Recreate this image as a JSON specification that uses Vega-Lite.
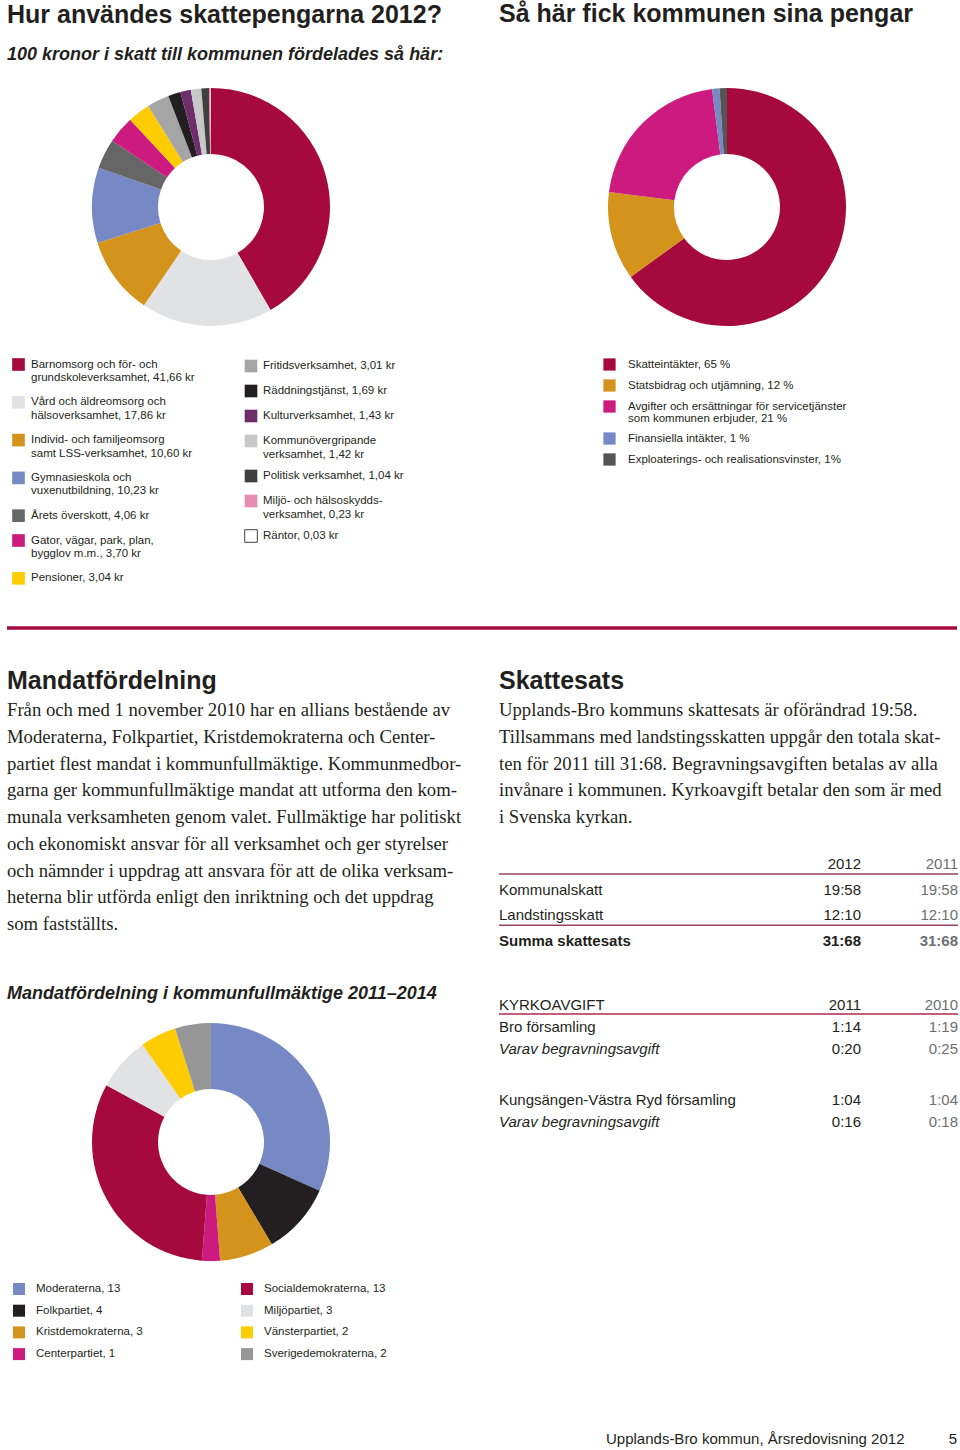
{
  "$schema": "https://vega.github.io/schema/vega-lite/v6.json",
  "background": "white",
  "padding": {"left": 5, "top": 2, "right": 0, "bottom": 0},
  "config": {
    "view": {"stroke": null},
    "font": "Liberation Sans",
    "concat": {"spacing": 0},
    "title": {"anchor": "start", "frame": "group", "font": "Liberation Sans", "fontWeight": "bold", "color": "#231f20", "fontSize": 25}
  },
  "bounds": "flush",
  "spacing": 240,
  "resolve": {"scale": {"color": "independent", "theta": "independent"}, "legend": {"color": "independent"}},
  "vconcat": [
    {
      "hconcat": [
        {
          "width": 408,
          "height": 240,
          "title": {
            "text": "Hur användes skattepengarna 2012?",
            "subtitle": "100 kronor i skatt till kommunen fördelades så här:",
            "frame": "group",
            "offset": 23,
            "subtitleFont": "Liberation Sans",
            "subtitleFontSize": 18,
            "subtitleFontStyle": "italic",
            "subtitleFontWeight": "bold",
            "subtitleColor": "#231f20",
            "subtitlePadding": 18.5
          },
          "data": {"values": [
            {"nr": 1, "kategori": "Barnomsorg och för- och\ngrundskoleverksamhet, 41,66 kr", "kr": 41.66},
            {"nr": 2, "kategori": "Vård och äldreomsorg och\nhälsoverksamhet, 17,86 kr", "kr": 17.86},
            {"nr": 3, "kategori": "Individ- och familjeomsorg\nsamt LSS-verksamhet, 10,60 kr", "kr": 10.60},
            {"nr": 4, "kategori": "Gymnasieskola och\nvuxenutbildning, 10,23 kr", "kr": 10.23},
            {"nr": 5, "kategori": "Årets överskott,  4,06 kr", "kr": 4.06},
            {"nr": 6, "kategori": "Gator, vägar, park, plan,\nbygglov m.m.,  3,70 kr", "kr": 3.70},
            {"nr": 7, "kategori": "Pensioner,  3,04 kr", "kr": 3.04},
            {"nr": 8, "kategori": "Fritidsverksamhet,  3,01 kr", "kr": 3.01},
            {"nr": 9, "kategori": "Räddningstjänst,  1,69 kr", "kr": 1.69},
            {"nr": 10, "kategori": "Kulturverksamhet,  1,43 kr", "kr": 1.43},
            {"nr": 11, "kategori": "Kommunövergripande\nverksamhet,  1,42 kr", "kr": 1.42},
            {"nr": 12, "kategori": "Politisk verksamhet,  1,04 kr", "kr": 1.04},
            {"nr": 13, "kategori": "Miljö- och hälsoskydds-\nverksamhet,  0,23 kr", "kr": 0.23},
            {"nr": 14, "kategori": "Räntor,  0,03 kr", "kr": 0.03}
          ]},
          "transform": [
            {"stack": "kr", "groupby": [], "sort": [{"field": "nr", "order": "ascending"}], "as": ["fran", "till"]}
          ],
          "layer": [
            {
              "transform": [{"filter": "datum.nr <= 7"}],
              "mark": {"type": "arc", "innerRadius": 53, "outerRadius": 119},
              "encoding": {
                "theta": {"field": "fran", "type": "quantitative", "scale": {"domain": [0, 100]}},
                "theta2": {"field": "till"},
                "color": {
                  "field": "kategori",
                  "type": "nominal",
                  "scale": {
                    "domain": [
                      "Barnomsorg och för- och\ngrundskoleverksamhet, 41,66 kr",
                      "Vård och äldreomsorg och\nhälsoverksamhet, 17,86 kr",
                      "Individ- och familjeomsorg\nsamt LSS-verksamhet, 10,60 kr",
                      "Gymnasieskola och\nvuxenutbildning, 10,23 kr",
                      "Årets överskott,  4,06 kr",
                      "Gator, vägar, park, plan,\nbygglov m.m.,  3,70 kr",
                      "Pensioner,  3,04 kr"
                    ],
                    "range": ["#a6093d", "#e1e2e3", "#d4931b", "#7789c5", "#666666", "#cc1a7f", "#fecc00"]
                  },
                  "legend": {
                    "title": null,
                    "orient": "none",
                    "legendX": 5,
                    "legendY": 271,
                    "direction": "vertical",
                    "padding": 0,
                    "symbolType": "square",
                    "symbolSize": 160,
                    "symbolStrokeWidth": 0,
                    "labelFont": "Liberation Sans",
                    "labelFontSize": 11.5,
                    "labelColor": "#231f20",
                    "labelOffset": 6,
                    "rowPadding": 11.8,
                    "labelLimit": 400,
                    "labelExpr": "split(datum.label, '\\n')"
                  }
                }
              }
            },
            {
              "transform": [{"filter": "datum.nr > 7"}],
              "mark": {"type": "arc", "innerRadius": 53, "outerRadius": 119},
              "encoding": {
                "theta": {"field": "fran", "type": "quantitative", "scale": {"domain": [0, 100]}},
                "theta2": {"field": "till"},
                "color": {
                  "field": "kategori",
                  "type": "nominal",
                  "scale": {
                    "domain": [
                      "Fritidsverksamhet,  3,01 kr",
                      "Räddningstjänst,  1,69 kr",
                      "Kulturverksamhet,  1,43 kr",
                      "Kommunövergripande\nverksamhet,  1,42 kr",
                      "Politisk verksamhet,  1,04 kr",
                      "Miljö- och hälsoskydds-\nverksamhet,  0,23 kr",
                      "Räntor,  0,03 kr"
                    ],
                    "range": ["#a5a5a5", "#231f20", "#6e2d6b", "#c8c8c8", "#404040", "#e58db4", "#ffffff"]
                  },
                  "legend": {
                    "title": null,
                    "orient": "none",
                    "legendX": 237,
                    "legendY": 272,
                    "direction": "vertical",
                    "padding": 0,
                    "symbolType": "square",
                    "symbolSize": 160,
                    "symbolStrokeWidth": 0,
                    "labelFont": "Liberation Sans",
                    "labelFontSize": 11.5,
                    "labelColor": "#231f20",
                    "labelOffset": 5,
                    "rowPadding": 7,
                    "labelLimit": 400,
                    "labelExpr": "split(datum.label, '\\n')",
                    "encode": {
                      "symbols": {
                        "update": {
                          "stroke": [{"test": "datum.value === 'Räntor,  0,03 kr'", "value": "#444444"}, {"value": "transparent"}],
                          "strokeWidth": {"value": 1}
                        }
                      }
                    }
                  }
                }
              }
            }
          ],
          "resolve": {"scale": {"color": "independent"}, "legend": {"color": "independent"}}
        },
        {
          "width": 456,
          "height": 240,
          "title": {"text": "Så här fick kommunen sina pengar", "frame": "group", "offset": 60},
          "data": {"values": [
            {"nr": 1, "kalla": "Skatteintäkter, 65 %", "andel": 65},
            {"nr": 2, "kalla": "Statsbidrag och utjämning, 12 %", "andel": 12},
            {"nr": 3, "kalla": "Avgifter och ersättningar för servicetjänster\nsom kommunen erbjuder, 21 %", "andel": 21},
            {"nr": 4, "kalla": "Finansiella intäkter, 1 %", "andel": 1},
            {"nr": 5, "kalla": "Exploaterings- och realisationsvinster, 1%", "andel": 1}
          ]},
          "mark": {"type": "arc", "innerRadius": 53, "outerRadius": 119},
          "encoding": {
            "theta": {"field": "andel", "type": "quantitative", "stack": true},
            "order": {"field": "nr", "type": "quantitative"},
            "color": {
              "field": "kalla",
              "type": "nominal",
              "scale": {
                "domain": [
                  "Skatteintäkter, 65 %",
                  "Statsbidrag och utjämning, 12 %",
                  "Avgifter och ersättningar för servicetjänster\nsom kommunen erbjuder, 21 %",
                  "Finansiella intäkter, 1 %",
                  "Exploaterings- och realisationsvinster, 1%"
                ],
                "range": ["#a6093d", "#d4931b", "#cc1a7f", "#7789c5", "#555555"]
              },
              "legend": {
                "title": null,
                "orient": "none",
                "legendX": 104,
                "legendY": 271,
                "direction": "vertical",
                "padding": 0,
                "symbolType": "square",
                "symbolSize": 150,
                "symbolStrokeWidth": 0,
                "labelFont": "Liberation Sans",
                "labelFontSize": 11.5,
                "labelColor": "#231f20",
                "labelOffset": 12,
                "rowPadding": 8,
                "labelLimit": 400,
                "labelExpr": "split(datum.label, '\\n')",
                "encode": {"labels": {"update": {"lineHeight": {"value": 12}}}}
              }
            }
          }
        }
      ],
      "spacing": 84,
      "bounds": "flush",
      "resolve": {"scale": {"color": "independent", "theta": "independent"}, "legend": {"color": "independent"}}
    },
    {
      "vconcat": [
        {
          "width": 950,
          "height": 301,
          "data": {"values": [{"linje": 0}]},
          "mark": {"type": "rule", "color": "#a6093d", "strokeWidth": 3.5},
          "encoding": {
            "y": {"field": "linje", "type": "quantitative", "scale": {"domain": [0, 1]}, "axis": null}
          }
        },
        {
          "vconcat": [
            {
              "hconcat": [
                {
                  "width": 408,
                  "height": 214,
                  "title": {"text": "Mandatfördelning", "frame": "group", "offset": 6.75},
                  "data": {"values": [
                    {"rad": 1, "text": "Från och med 1 november 2010 har en allians bestående av"},
                    {"rad": 2, "text": "Moderaterna, Folkpartiet, Kristdemokraterna och Center-"},
                    {"rad": 3, "text": "partiet flest mandat i kommunfullmäktige. Kommunmedbor-"},
                    {"rad": 4, "text": "garna ger kommunfullmäktige mandat att utforma den kom-"},
                    {"rad": 5, "text": "munala verksamheten genom valet. Fullmäktige har politiskt"},
                    {"rad": 6, "text": "och ekonomiskt ansvar för all verksamhet och ger styrelser"},
                    {"rad": 7, "text": "och nämnder i uppdrag att ansvara för att de olika verksam-"},
                    {"rad": 8, "text": "heterna blir utförda enligt den inriktning och det uppdrag"},
                    {"rad": 9, "text": "som fastställts."}
                  ]},
                  "mark": {"type": "text", "align": "left", "baseline": "alphabetic", "font": "Liberation Serif", "fontSize": 18.7, "color": "#231f20"},
                  "encoding": {
                    "x": {"datum": 0, "type": "quantitative", "scale": {"domain": [0, 1]}, "axis": null},
                    "y": {"field": "rad", "type": "ordinal", "scale": {"type": "point", "padding": 0}, "axis": null},
                    "text": {"field": "text"}
                  }
                },
                {
                  "vconcat": [
                    {
                      "width": 459,
                      "height": 107,
                      "title": {"text": "Skattesats", "frame": "group", "offset": 6.75},
                      "data": {"values": [
                        {"rad": 1, "text": "Upplands-Bro kommuns skattesats är oförändrad 19:58."},
                        {"rad": 2, "text": "Tillsammans med landstingsskatten uppgår den totala skat-"},
                        {"rad": 3, "text": "ten för 2011 till 31:68. Begravningsavgiften betalas av alla"},
                        {"rad": 4, "text": "invånare i kommunen. Kyrkoavgift betalar den som är med"},
                        {"rad": 5, "text": "i Svenska kyrkan."}
                      ]},
                      "mark": {"type": "text", "align": "left", "baseline": "alphabetic", "font": "Liberation Serif", "fontSize": 18.7, "color": "#231f20"},
                      "encoding": {
                        "x": {"datum": 0, "type": "quantitative", "scale": {"domain": [0, 1]}, "axis": null},
                        "y": {"field": "rad", "type": "ordinal", "scale": {"type": "point", "padding": 0}, "axis": null},
                        "text": {"field": "text"}
                      }
                    },
                    {
                      "width": 459,
                      "height": 77,
                      "data": {"values": [
                        {"rad": 1, "etikett": "", "a": "2012", "b": "2011"},
                        {"rad": 2, "etikett": "Kommunalskatt", "a": "19:58", "b": "19:58"},
                        {"rad": 3, "etikett": "Landstingsskatt", "a": "12:10", "b": "12:10"},
                        {"rad": 4, "etikett": "Summa skattesats", "a": "31:68", "b": "31:68"}
                      ]},
                      "encoding": {
                        "y": {"field": "rad", "type": "ordinal", "scale": {"type": "point", "padding": 0}, "axis": null}
                      },
                      "layer": [
                        {
                          "transform": [{"filter": "datum.rad == 1 || datum.rad == 3"}],
                          "mark": {"type": "rule", "color": "#a0405f", "strokeWidth": 1.5, "yOffset": 5}
                        },
                        {
                          "mark": {"type": "text", "align": "left", "baseline": "alphabetic", "fontSize": 15, "color": "#231f20", "fontWeight": {"expr": "datum.rad == 4 ? 'bold' : 'normal'"}},
                          "encoding": {
                            "x": {"datum": 0, "type": "quantitative", "scale": {"domain": [0, 459]}, "axis": null},
                            "text": {"field": "etikett"}
                          }
                        },
                        {
                          "mark": {"type": "text", "align": "right", "baseline": "alphabetic", "fontSize": 15, "color": "#231f20", "fontWeight": {"expr": "datum.rad == 4 ? 'bold' : 'normal'"}},
                          "encoding": {
                            "x": {"datum": 362, "type": "quantitative", "scale": {"domain": [0, 459]}, "axis": null},
                            "text": {"field": "a"}
                          }
                        },
                        {
                          "mark": {"type": "text", "align": "right", "baseline": "alphabetic", "fontSize": 15, "color": "#6d6e71", "fontWeight": {"expr": "datum.rad == 4 ? 'bold' : 'normal'"}},
                          "encoding": {
                            "x": {"datum": 459, "type": "quantitative", "scale": {"domain": [0, 459]}, "axis": null},
                            "text": {"field": "b"}
                          }
                        }
                      ]
                    }
                  ],
                  "spacing": 46,
                  "bounds": "flush"
                }
              ],
              "spacing": 84,
              "bounds": "flush"
            },
            {
              "vconcat": [
                {
                  "hconcat": [
                    {
                      "width": 408,
                      "height": 264,
                      "title": {"text": "Mandatfördelning i kommunfullmäktige 2011–2014", "frame": "group", "offset": 7, "fontSize": 18, "fontStyle": "italic"},
                      "data": {"values": [
                        {"nr": 1, "parti": "Moderaterna, 13", "mandat": 13},
                        {"nr": 2, "parti": "Folkpartiet, 4", "mandat": 4},
                        {"nr": 3, "parti": "Kristdemokraterna, 3", "mandat": 3},
                        {"nr": 4, "parti": "Centerpartiet, 1", "mandat": 1},
                        {"nr": 5, "parti": "Socialdemokraterna, 13", "mandat": 13},
                        {"nr": 6, "parti": "Miljöpartiet, 3", "mandat": 3},
                        {"nr": 7, "parti": "Vänsterpartiet, 2", "mandat": 2},
                        {"nr": 8, "parti": "Sverigedemokraterna, 2", "mandat": 2}
                      ]},
                      "mark": {"type": "arc", "innerRadius": 53, "outerRadius": 119},
                      "encoding": {
                        "theta": {"field": "mandat", "type": "quantitative", "stack": true},
                        "order": {"field": "nr", "type": "quantitative"},
                        "color": {
                          "field": "parti",
                          "type": "nominal",
                          "scale": {
                            "domain": ["Moderaterna, 13", "Folkpartiet, 4", "Kristdemokraterna, 3", "Centerpartiet, 1", "Socialdemokraterna, 13", "Miljöpartiet, 3", "Vänsterpartiet, 2", "Sverigedemokraterna, 2"],
                            "range": ["#7789c5", "#231f20", "#d4931b", "#cc1a7f", "#a6093d", "#e1e2e3", "#fecc00", "#969696"]
                          },
                          "legend": {
                            "title": null,
                            "orient": "none",
                            "legendX": 6,
                            "legendY": 273,
                            "direction": "vertical",
                            "columns": 2,
                            "columnPadding": 98,
                            "padding": 0,
                            "symbolType": "square",
                            "symbolSize": 144,
                            "symbolStrokeWidth": 0,
                            "labelFont": "Liberation Sans",
                            "labelFontSize": 11.5,
                            "labelColor": "#231f20",
                            "labelOffset": 11,
                            "rowPadding": 9.7,
                            "labelLimit": 400
                          }
                        }
                      }
                    },
                    {
                      "vconcat": [
                        {
                          "width": 459,
                          "height": 44,
                          "data": {"values": [
                            {"rad": 1, "etikett": "KYRKOAVGIFT", "a": "2011", "b": "2010"},
                            {"rad": 2, "etikett": "Bro församling", "a": "1:14", "b": "1:19"},
                            {"rad": 3, "etikett": "Varav begravningsavgift", "a": "0:20", "b": "0:25"}
                          ]},
                          "encoding": {
                            "y": {"field": "rad", "type": "ordinal", "scale": {"type": "point", "padding": 0}, "axis": null}
                          },
                          "layer": [
                            {
                              "transform": [{"filter": "datum.rad == 1"}],
                              "mark": {"type": "rule", "color": "#b02a4e", "strokeWidth": 1.3, "yOffset": 4}
                            },
                            {
                              "mark": {"type": "text", "align": "left", "baseline": "alphabetic", "fontSize": 15, "color": "#231f20", "fontStyle": {"expr": "indexof(datum.etikett, 'Varav') == 0 ? 'italic' : 'normal'"}},
                              "encoding": {
                                "x": {"datum": 0, "type": "quantitative", "scale": {"domain": [0, 459]}, "axis": null},
                                "text": {"field": "etikett"}
                              }
                            },
                            {
                              "mark": {"type": "text", "align": "right", "baseline": "alphabetic", "fontSize": 15, "color": "#231f20"},
                              "encoding": {
                                "x": {"datum": 362, "type": "quantitative", "scale": {"domain": [0, 459]}, "axis": null},
                                "text": {"field": "a"}
                              }
                            },
                            {
                              "mark": {"type": "text", "align": "right", "baseline": "alphabetic", "fontSize": 15, "color": "#6d6e71"},
                              "encoding": {
                                "x": {"datum": 459, "type": "quantitative", "scale": {"domain": [0, 459]}, "axis": null},
                                "text": {"field": "b"}
                              }
                            }
                          ]
                        },
                        {
                          "width": 459,
                          "height": 22,
                          "data": {"values": [
                            {"rad": 1, "etikett": "Kungsängen-Västra Ryd församling", "a": "1:04", "b": "1:04"},
                            {"rad": 2, "etikett": "Varav begravningsavgift", "a": "0:16", "b": "0:18"}
                          ]},
                          "encoding": {
                            "y": {"field": "rad", "type": "ordinal", "scale": {"type": "point", "padding": 0}, "axis": null}
                          },
                          "layer": [
                            {
                              "mark": {"type": "text", "align": "left", "baseline": "alphabetic", "fontSize": 15, "color": "#231f20", "fontStyle": {"expr": "indexof(datum.etikett, 'Varav') == 0 ? 'italic' : 'normal'"}},
                              "encoding": {
                                "x": {"datum": 0, "type": "quantitative", "scale": {"domain": [0, 459]}, "axis": null},
                                "text": {"field": "etikett"}
                              }
                            },
                            {
                              "mark": {"type": "text", "align": "right", "baseline": "alphabetic", "fontSize": 15, "color": "#231f20"},
                              "encoding": {
                                "x": {"datum": 362, "type": "quantitative", "scale": {"domain": [0, 459]}, "axis": null},
                                "text": {"field": "a"}
                              }
                            },
                            {
                              "mark": {"type": "text", "align": "right", "baseline": "alphabetic", "fontSize": 15, "color": "#6d6e71"},
                              "encoding": {
                                "x": {"datum": 459, "type": "quantitative", "scale": {"domain": [0, 459]}, "axis": null},
                                "text": {"field": "b"}
                              }
                            }
                          ]
                        }
                      ],
                      "spacing": 51,
                      "bounds": "flush"
                    }
                  ],
                  "spacing": 84,
                  "bounds": "flush",
                  "resolve": {"scale": {"color": "independent", "theta": "independent"}, "legend": {"color": "independent"}}
                },
                {
                  "width": 950,
                  "height": 12,
                  "layer": [
                    {
                      "data": {"values": [{"text": "Upplands-Bro kommun, Årsredovisning 2012"}]},
                      "mark": {"type": "text", "align": "left", "baseline": "alphabetic", "fontSize": 15, "color": "#231f20"},
                      "encoding": {
                        "x": {"datum": 599, "type": "quantitative", "scale": {"domain": [0, 950]}, "axis": null},
                        "text": {"field": "text"}
                      }
                    },
                    {
                      "data": {"values": [{"text": "5"}]},
                      "mark": {"type": "text", "align": "right", "baseline": "alphabetic", "fontSize": 15, "color": "#231f20"},
                      "encoding": {
                        "x": {"datum": 950, "type": "quantitative", "scale": {"domain": [0, 950]}, "axis": null},
                        "text": {"field": "text"}
                      }
                    }
                  ]
                }
              ],
              "spacing": 428,
              "bounds": "flush",
              "resolve": {"scale": {"color": "independent", "theta": "independent"}, "legend": {"color": "independent"}}
            }
          ],
          "spacing": 294,
          "bounds": "flush",
          "resolve": {"scale": {"color": "independent", "theta": "independent"}, "legend": {"color": "independent"}}
        }
      ],
      "spacing": 88,
      "bounds": "flush",
      "resolve": {"scale": {"color": "independent", "theta": "independent"}, "legend": {"color": "independent"}}
    }
  ]
}
